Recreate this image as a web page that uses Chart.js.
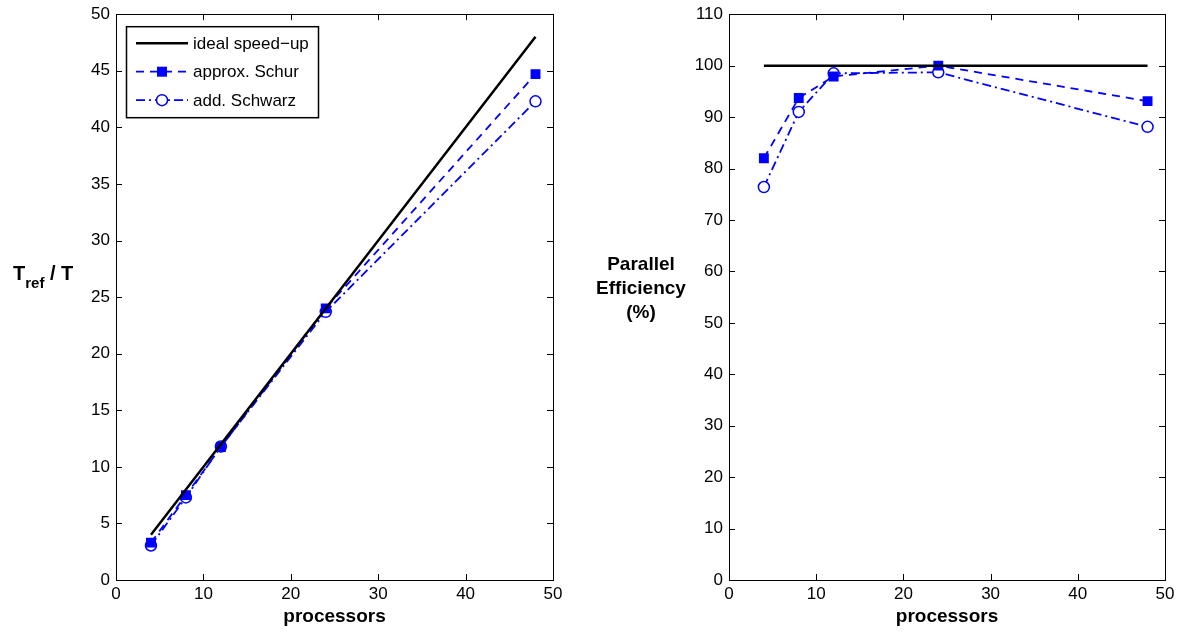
<!DOCTYPE html>
<html>
<head>
<meta charset="utf-8">
<script src="https://cdn.jsdelivr.net/npm/chart.js@4"></script>
<style>
  body { margin: 0; background: #fff; font-family: 'Liberation Sans', Arial, sans-serif; }
  #wrap { position: relative; width: 1180px; height: 632px; overflow: hidden; }
  .box { position: absolute; top: -2px; height: 634px; }
  .ylab { position: absolute; font-weight: bold; color: #000; text-align: center; }
</style>
</head>
<body>
<div id="wrap">
  <div class="box" style="left:0; width:570px;"><canvas id="speedupChart"></canvas></div>
  <div class="box" style="left:590px; width:590px;"><canvas id="effChart"></canvas></div>
  <div class="ylab" style="left:13px; top:262px; font-size:20px;">T<sub style="font-size:15px; position:relative; top:3px; vertical-align:sub;">ref</sub> / T</div>
  <div class="ylab" style="left:586px; top:252px; width:110px; font-size:19px; line-height:24px;">Parallel<br>Efficiency<br>(%)</div>
</div>
<script>
// data
const procs = [4, 8, 12, 24, 48];
const idealSpeedup = [4, 8, 12, 24, 48];
const schurSpeedup = [3.3, 7.5, 11.75, 24.0, 44.7];
const schwarzSpeedup = [3.05, 7.3, 11.8, 23.7, 42.3];
const idealEff = [100, 100, 100, 100, 100];
const schurEff = [82, 93.7, 97.9, 100, 93.1];
const schwarzEff = [76.4, 91, 98.5, 98.7, 88.1];

const legendLabels = ['ideal speed\u2212up', 'approx. Schur', 'add. Schwarz'];

const BLUE = '#0000ff';
const FONT = "'Liberation Sans', Arial, sans-serif";

function pts(ys) {
  return procs.map((p, i) => ({ x: p, y: ys[i] }));
}

function makeDatasets(ideal, schur, schwarz) {
  return [
    {
      label: legendLabels[0],
      data: pts(ideal),
      borderColor: '#000',
      borderWidth: 2.5,
      pointRadius: 0
    },
    {
      label: legendLabels[1],
      data: pts(schur),
      borderColor: BLUE,
      backgroundColor: BLUE,
      borderWidth: 1.8,
      borderDash: [8, 6],
      pointStyle: 'rect',
      pointRadius: 7,
      pointBorderWidth: 0,
      pointBackgroundColor: BLUE
    },
    {
      label: legendLabels[2],
      data: pts(schwarz),
      borderColor: BLUE,
      borderWidth: 1.8,
      borderDash: [9, 4, 2, 4],
      pointStyle: 'circle',
      pointRadius: 5.5,
      pointBorderWidth: 1.5,
      pointBackgroundColor: '#fff',
      pointBorderColor: BLUE
    }
  ];
}

// box round the plot with inward ticks on all four sides
const boxTicks = {
  id: 'boxTicks',
  afterDraw(chart) {
    const { ctx, chartArea: a, scales: { x, y } } = chart;
    ctx.save();
    ctx.strokeStyle = '#000';
    ctx.lineWidth = 1;
    ctx.setLineDash([]);
    ctx.strokeRect(Math.round(a.left) + 0.5, Math.round(a.top) + 0.5, Math.round(a.right - a.left), Math.round(a.bottom - a.top));
    ctx.beginPath();
    x.ticks.forEach(t => {
      const px = Math.round(x.getPixelForValue(t.value)) + 0.5;
      ctx.moveTo(px, a.bottom); ctx.lineTo(px, a.bottom - 6);
      ctx.moveTo(px, a.top); ctx.lineTo(px, a.top + 6);
    });
    y.ticks.forEach(t => {
      const py = Math.round(y.getPixelForValue(t.value)) + 0.5;
      ctx.moveTo(a.left, py); ctx.lineTo(a.left + 6, py);
      ctx.moveTo(a.right, py); ctx.lineTo(a.right - 6, py);
    });
    ctx.stroke();
    ctx.restore();
  }
};

// matlab style legend inside the left plot
const legendBox = {
  id: 'legendBox',
  afterDraw(chart) {
    const { ctx, chartArea: a } = chart;
    const left = a.left + 10, top = a.top + 12, w = 192, h = 91;
    ctx.save();
    ctx.fillStyle = '#fff';
    ctx.fillRect(left, top, w, h);
    ctx.strokeStyle = '#000';
    ctx.lineWidth = 1.5;
    ctx.strokeRect(left + 0.5, top + 0.5, w, h);
    const ds = chart.data.datasets;
    ds.forEach((d, i) => {
      const yy = top + 17 + i * 28.5;
      const x0 = left + 10, x1 = left + 62;
      ctx.strokeStyle = d.borderColor;
      ctx.lineWidth = d.borderWidth;
      ctx.setLineDash(d.borderDash || []);
      ctx.beginPath();
      ctx.moveTo(x0, yy); ctx.lineTo(x1, yy);
      ctx.stroke();
      ctx.setLineDash([]);
      const cx = (x0 + x1) / 2;
      if (d.pointStyle === 'rect') {
        ctx.fillStyle = BLUE;
        ctx.fillRect(cx - 5, yy - 5, 10, 10);
      } else if (d.pointStyle === 'circle') {
        ctx.fillStyle = '#fff';
        ctx.lineWidth = 1.5;
        ctx.beginPath();
        ctx.arc(cx, yy, 5.5, 0, Math.PI * 2);
        ctx.fill();
        ctx.stroke();
      }
      ctx.fillStyle = '#000';
      ctx.font = '17px ' + FONT;
      ctx.textBaseline = 'middle';
      ctx.textAlign = 'left';
      ctx.fillText(d.label, left + 67, yy + 1);
    });
    ctx.restore();
  }
};

function makeOptions(yMax, yStep, yWidth, padRight) {
  return {
    responsive: true,
    maintainAspectRatio: false,
    animation: false,
    layout: { padding: { top: 4, right: padRight, bottom: 0, left: 0 } },
    plugins: { legend: { display: false }, tooltip: { enabled: false } },
    scales: {
      x: {
        type: 'linear',
        min: 0,
        max: 50,
        border: { display: false },
        grid: { display: false, drawTicks: false },
        ticks: { stepSize: 10, color: '#000', padding: 4, font: { family: FONT, size: 17 } },
        title: {
          display: true,
          text: 'processors',
          color: '#000',
          padding: { top: 0, bottom: 4 },
          font: { family: FONT, size: 19, weight: 'bold' }
        },
        afterFit(scale) { scale.height = 52; }
      },
      y: {
        min: 0,
        max: yMax,
        border: { display: false },
        grid: { display: false, drawTicks: false },
        ticks: { stepSize: yStep, color: '#000', padding: 6, font: { family: FONT, size: 17 } },
        afterFit(scale) { scale.width = yWidth; }
      }
    }
  };
}

new Chart(document.getElementById('speedupChart'), {
  type: 'line',
  data: { datasets: makeDatasets(idealSpeedup, schurSpeedup, schwarzSpeedup) },
  options: makeOptions(50, 5, 116, 17),
  plugins: [boxTicks, legendBox]
});

new Chart(document.getElementById('effChart'), {
  type: 'line',
  data: { datasets: makeDatasets(idealEff, schurEff, schwarzEff) },
  options: makeOptions(110, 10, 139, 15),
  plugins: [boxTicks]
});
</script>
</body>
</html>
